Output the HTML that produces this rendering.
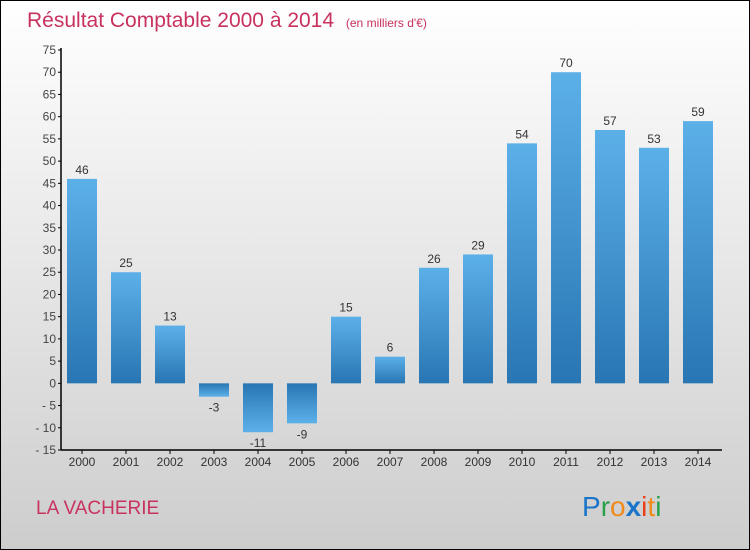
<!DOCTYPE html>
<html><head><meta charset="utf-8"><style>
body{margin:0;width:750px;height:550px;overflow:hidden}
svg{display:block;font-family:"Liberation Sans",sans-serif}
</style></head><body>
<svg id="c" width="750" height="550">
<defs>
<linearGradient id="bg" x1="0" y1="0" x2="0" y2="1"><stop offset="0" stop-color="#ffffff"/><stop offset="1" stop-color="#cdcdcd"/></linearGradient>
<linearGradient id="gp" x1="0" y1="0" x2="0" y2="1"><stop offset="0" stop-color="#5cb0e8"/><stop offset="1" stop-color="#2876b4"/></linearGradient>
<linearGradient id="gn" x1="0" y1="0" x2="0" y2="1"><stop offset="0" stop-color="#2876b4"/><stop offset="1" stop-color="#5cb0e8"/></linearGradient>
</defs>
<rect x="0.5" y="0.5" width="749" height="549" fill="url(#bg)" stroke="#000"/>
<text x="27" y="27" font-size="21" fill="#c8325e">Résultat Comptable 2000 à 2014 <tspan font-size="12" dx="6">(en milliers d'€)</tspan></text>
<text x="36" y="514" font-size="19" fill="#c8325e">LA VACHERIE</text>
<g font-size="28" font-family="'Liberation Sans',sans-serif">
<text x="582" y="516" fill="#1a75c9">P<tspan fill="#2aa04a">r</tspan><tspan fill="#f08a1a">o</tspan><tspan fill="#1a75c9" font-weight="bold">x</tspan><tspan fill="#e8401c">i</tspan><tspan fill="#f08a1a">t</tspan><tspan fill="#2aa04a">i</tspan></text>
</g>
<g id="plot"></g>
</svg>
<script>
const categories=["2000","2001","2002","2003","2004","2005","2006","2007","2008","2009","2010","2011","2012","2013","2014"];
const values=[46,25,13,-3,-11,-9,15,6,26,29,54,70,57,53,59];
const yTicks=[-15,-10,-5,0,5,10,15,20,25,30,35,40,45,50,55,60,65,70,75];
const NS="http://www.w3.org/2000/svg";
const g=document.getElementById('plot');
const y0=450,y1=50,vmin=-15,vmax=75;
const y=v=>y0-(v-vmin)*(y0-y1)/(vmax-vmin);
const x=i=>82+i*44;
function mk(t,a){const e=document.createElementNS(NS,t);for(const k in a)e.setAttribute(k,a[k]);g.appendChild(e);return e;}
yTicks.forEach(v=>{
 const l=mk('line',{x1:58,x2:61,y1:y(v),y2:y(v),stroke:'#000'});
 
 
 const t=mk('text',{x:56,y:y(v)+4,'text-anchor':'end','font-size':12,fill:'#444'});
 t.textContent=v<0?'- '+(-v):v;
 
 
});
categories.forEach((c,i)=>{
 const v=values[i];
 const top=Math.min(y(v),y(0)),h=Math.abs(y(v)-y(0));
 const b=mk('rect',{x:x(i)-15,y:top,width:30,height:h,fill:v>=0?'url(#gp)':'url(#gn)'});
 
 
 const t=mk('text',{x:x(i),y:v>=0?y(v)-5:y(v)+15,'text-anchor':'middle','font-size':12,fill:'#333'});
 t.textContent=v<0?'-'+(-v):v;
 
 
 const tk=mk('line',{x1:x(i),x2:x(i),y1:450,y2:454,stroke:'#000'});
 
 
 const xl=mk('text',{x:x(i),y:466,'text-anchor':'middle','font-size':12,fill:'#333'});
 xl.textContent=c;
 
 
});
const ya=mk('line',{x1:61,x2:61,y1:48,y2:450,stroke:'#000','stroke-width':1.5});


const xa=mk('line',{x1:61,x2:722,y1:450,y2:450,stroke:'#000','stroke-width':1.5});


</script>
</body></html>
